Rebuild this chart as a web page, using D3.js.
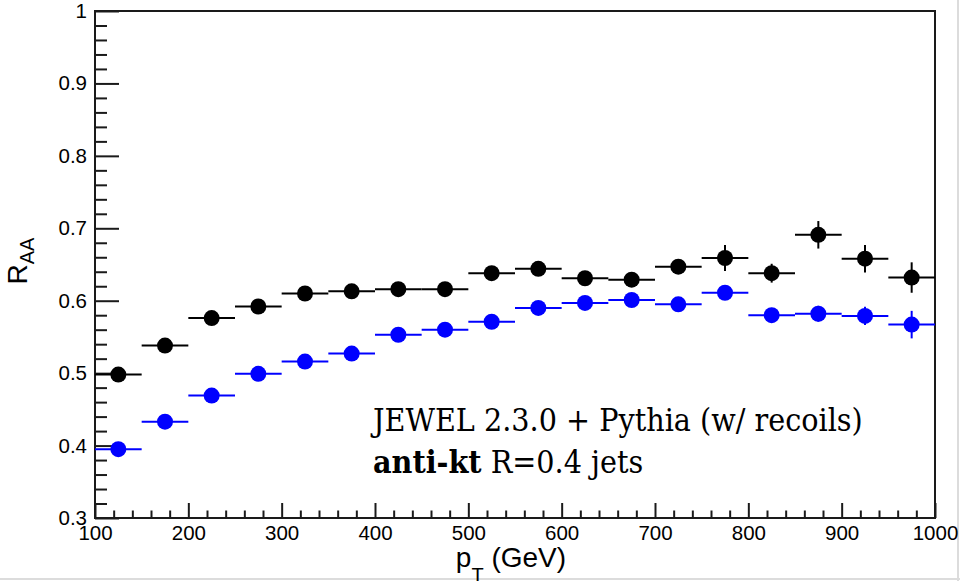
<!DOCTYPE html>
<html>
<head>
<meta charset="utf-8">
<script src="https://cdn.jsdelivr.net/npm/d3@7/dist/d3.min.js"></script>
<style>
  html, body { margin: 0; padding: 0; background: #fff; }
  svg { display: block; }
</style>
</head>
<body>
<svg id="chart" width="960" height="581"></svg>
<script>
// ---- data ----
const ptCenters = [125,175,225,275,325,375,425,475,525,575,625,675,725,775,825,875,925,975];
const binHalfWidth = 25;
const raaWithRecoils = [0.498,0.538,0.576,0.592,0.610,0.613,0.616,0.616,0.638,0.644,0.631,0.629,0.647,0.659,0.638,0.691,0.658,0.632];
const errWithRecoils = [0.002,0.003,0.003,0.003,0.004,0.004,0.005,0.005,0.006,0.007,0.008,0.009,0.010,0.018,0.013,0.019,0.019,0.021];
const raaNoRecoils   = [0.395,0.433,0.469,0.499,0.516,0.527,0.553,0.560,0.571,0.590,0.597,0.601,0.595,0.611,0.580,0.582,0.579,0.567];
const errNoRecoils   = [0.002,0.002,0.003,0.003,0.003,0.004,0.004,0.005,0.005,0.006,0.006,0.007,0.008,0.009,0.010,0.011,0.0125,0.019];
const xTicks = [100,200,300,400,500,600,700,800,900,1000];
const yTicks = [0.3,0.4,0.5,0.6,0.7,0.8,0.9,1.0];
const yTickLabels = ["0.3","0.4","0.5","0.6","0.7","0.8","0.9","1"];
const annotLine1 = "JEWEL 2.3.0 + Pythia (w/ recoils)";
const annotBold = "anti-kt";
const annotRest = " R=0.4 jets";

// ---- layout ----
const svg = d3.select("#chart");
const L = 95, R = 935, T = 11, B = 518;
const x = d3.scaleLinear().domain([100, 1000]).range([L, R]);
const y = d3.scaleLinear().domain([0.3, 1.0]).range([B, T]);
const axisColor = "#1a1a1a";
const sansFont = "'Liberation Sans', Arial, Helvetica, sans-serif";

// outer light border (right/bottom)
svg.append("line").attr("x1", 958).attr("x2", 958).attr("y1", 0).attr("y2", 581)
  .attr("stroke", "#dcdcdc").attr("stroke-width", 2);
svg.append("line").attr("x1", 0).attr("x2", 960).attr("y1", 579).attr("y2", 579)
  .attr("stroke", "#dcdcdc").attr("stroke-width", 2);

// minor ticks
const xMinor = d3.range(100, 1001, 20).filter(v => v % 100 !== 0);
const yMinor = d3.range(0, 36).map(i => 0.3 + i * 0.02).filter(v => v < 1.0001 && Math.abs(v*10 - Math.round(v*10)) > 1e-6);

const gxMinor = svg.append("g").attr("transform", `translate(0,${B})`)
  .call(d3.axisBottom(x).tickValues(xMinor).tickSize(-7.5).tickFormat(""));
const gyMinor = svg.append("g").attr("transform", `translate(${L},0)`)
  .call(d3.axisLeft(y).tickValues(yMinor).tickSize(-12).tickFormat(""));
[gxMinor, gyMinor].forEach(g => {
  g.select(".domain").remove();
  g.selectAll("line").attr("stroke", axisColor).attr("stroke-width", 2);
});

// major axes
const gx = svg.append("g").attr("transform", `translate(0,${B})`)
  .call(d3.axisBottom(x).tickValues(xTicks).tickSize(-15).tickPadding(7).tickFormat(d3.format("d")));
const gy = svg.append("g").attr("transform", `translate(${L},0)`)
  .call(d3.axisLeft(y).tickValues(yTicks).tickSize(-24).tickPadding(8)
    .tickFormat((d, i) => yTickLabels[i]));
[gx, gy].forEach(g => {
  g.select(".domain").remove();
  g.selectAll("line").attr("stroke", axisColor).attr("stroke-width", 2);
  g.selectAll("text").attr("fill", "#000").attr("font-family", sansFont).attr("font-size", 20.5);
});

// frame
svg.append("rect").attr("x", L).attr("y", T).attr("width", R - L).attr("height", B - T)
  .attr("fill", "none").attr("stroke", axisColor).attr("stroke-width", 2);

// ---- series ----
function drawSeries(vals, errs, color) {
  const g = svg.append("g");
  const pts = ptCenters.map((c, i) => ({c, v: vals[i], e: errs[i]}));
  g.selectAll("line.h").data(pts).join("line")
    .attr("x1", d => x(d.c - binHalfWidth)).attr("x2", d => x(d.c + binHalfWidth))
    .attr("y1", d => y(d.v)).attr("y2", d => y(d.v))
    .attr("stroke", color).attr("stroke-width", 2);
  g.selectAll("line.v").data(pts).join("line")
    .attr("x1", d => x(d.c)).attr("x2", d => x(d.c))
    .attr("y1", d => y(d.v - d.e)).attr("y2", d => y(d.v + d.e))
    .attr("stroke", color).attr("stroke-width", 2);
  g.selectAll("circle").data(pts).join("circle")
    .attr("cx", d => x(d.c)).attr("cy", d => y(d.v)).attr("r", 8)
    .attr("fill", color);
}
drawSeries(raaWithRecoils, errWithRecoils, "#000000");
drawSeries(raaNoRecoils, errNoRecoils, "#0000ff");

// ---- axis titles ----
const xt = svg.append("text").attr("x", 511).attr("y", 567)
  .attr("text-anchor", "middle").attr("font-family", sansFont).attr("font-size", 28).attr("fill", "#000");
xt.append("tspan").text("p");
xt.append("tspan").attr("font-size", 20).attr("dy", 15).text("T");
xt.append("tspan").attr("dy", -15).text(" (GeV)");

const yt = svg.append("text").attr("transform", "translate(27,261) rotate(-90)")
  .attr("text-anchor", "middle").attr("font-family", sansFont).attr("font-size", 28).attr("fill", "#000");
yt.append("tspan").text("R");
yt.append("tspan").attr("font-size", 20).attr("dy", 7).text("AA");

// ---- annotation ----
const serif = "'DejaVu Serif Condensed', 'DejaVu Serif', serif";
const t1 = svg.append("text").attr("x", 373).attr("y", 431)
  .attr("font-family", serif).attr("font-stretch", "condensed")
  .attr("font-size", 30).attr("fill", "#000").text(annotLine1);
const w1 = t1.node().getComputedTextLength();
const fs = 30 * 490 / w1;
t1.attr("font-size", fs);
const t2 = svg.append("text").attr("x", 373).attr("y", 473)
  .attr("font-family", serif).attr("font-stretch", "condensed")
  .attr("font-size", fs).attr("fill", "#000");
t2.append("tspan").attr("font-weight", "bold").text(annotBold);
t2.append("tspan").text(annotRest);
</script>
</body>
</html>
